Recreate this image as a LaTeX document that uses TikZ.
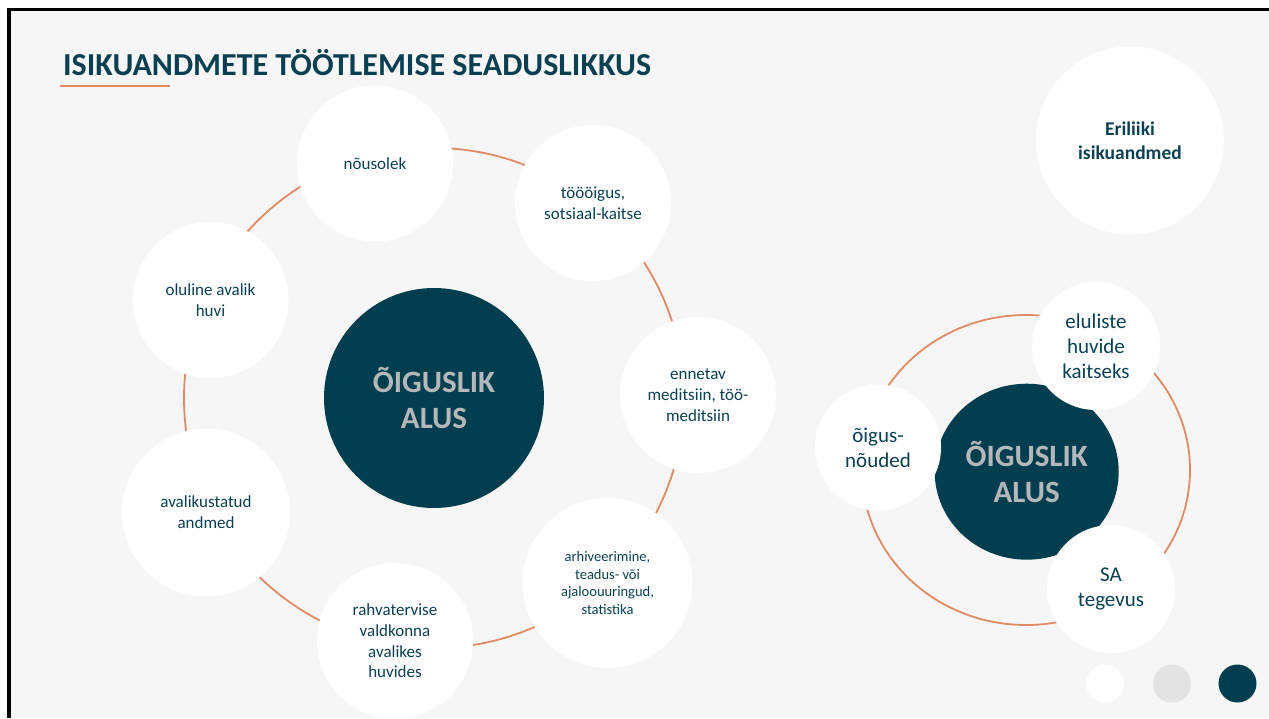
\documentclass[tikz,border=0pt]{standalone}
\usepackage{fontspec}
\setmainfont{Carlito}
\usetikzlibrary{shapes.geometric}
\definecolor{slidebg}{HTML}{F6F6F6}
\definecolor{darkteal}{HTML}{023E4F}
\definecolor{txtteal}{HTML}{0B4052}
\definecolor{ringorange}{HTML}{E08A66}
\definecolor{hubtxt}{HTML}{B4B8BA}
\definecolor{dotgray}{HTML}{E3E3E3}
\begin{document}
\begin{tikzpicture}[x=1pt,y=-1pt,
  sat/.style={circle,fill=white,inner sep=0pt,minimum size=#1,align=center,
    text=txtteal,font=\fontsize{17}{20.7}\selectfont},
  satbig/.style={circle,fill=white,inner sep=0pt,minimum size=#1,align=center,
    text=txtteal,font=\fontsize{21}{25}\selectfont},
  hub/.style={fill=darkteal,inner sep=0pt,align=center,text=hubtxt,
    font=\fontsize{31}{35.6}\bfseries},
  ringline/.style={draw=ringorange,line width=1.8pt},
  dot/.style={circle,inner sep=0pt,minimum size=38}
]
\useasboundingbox (0,0) rectangle (1269,718);
\fill[white] (0,0) rectangle (1269,718);
\fill[slidebg] (9,9.5) rectangle (1269,718);
\draw[black,line width=3.4pt] (9,718) -- (9,9.5) -- (1269,9.5);

% title
\node[anchor=base west,inner sep=0pt,text=txtteal,font=\fontsize{32}{38}\bfseries] (title) at (63,75) {ISIKUANDMETE TÖÖTLEMISE SEADUSLIKKUS};
\coordinate (ulA) at (60,86);
\coordinate (ulB) at (170,86);
\draw[ringorange,line width=1.8pt] (ulA) -- (ulB);

% left diagram
\coordinate (lc) at (434,398);
\draw[ringline] (lc) circle[radius=250];
\node[hub,circle,minimum size=220] (hubL) at (lc) {ÕIGUSLIK\\ALUS};
\node[sat=156] (nousolek) at (375,163.5) {nõusolek};
\node[sat=156] (toooigus) at (593,203) {töööigus,\\sotsiaal-kaitse};
\node[sat=156] (ennetav) at (698,395) {ennetav\\meditsiin, töö-\\meditsiin};
\node[sat=170,font=\fontsize{14.5}{17.7}\selectfont] (arhiv) at (607.5,583) {arhiveerimine,\\teadus- või\\ajaloouuringud,\\statistika};
\node[sat=156] (rahva) at (395,641) {rahvatervise\\valdkonna\\avalikes\\huvides};
\node[sat=168] (avalik) at (206,512.5) {avalikustatud\\andmed};
\node[sat=156] (oluline) at (210.5,300) {oluline avalik\\huvi};

% right diagram
\coordinate (rc) at (1026,470);
\draw[ringline] (rc) ellipse[x radius=164,y radius=155];
\node[hub,ellipse,minimum width=184,minimum height=176] (hubR) at (1026.7,471.7) {ÕIGUSLIK\\ALUS};
\node[satbig=128] (eluliste) at (1096,346) {eluliste\\huvide\\kaitseks};
\node[satbig=126] (oigus) at (878,447.5) {õigus-\\nõuded};
\node[satbig=128] (sa) at (1111,589) {SA\\tegevus};

% top-right circle
\node[circle,fill=white,inner sep=0pt,minimum size=188,align=center,text=txtteal,
  font=\fontsize{19.5}{24}\bfseries] (eriliiki) at (1130,140.5) {Eriliiki\\isikuandmed};

% navigation dots
\node[dot,fill=white] (dot1) at (1105,683.5) {};
\node[dot,fill=dotgray] (dot2) at (1172,683.5) {};
\node[dot,fill=darkteal] (dot3) at (1237.5,683.5) {};
\end{tikzpicture}
\end{document}
